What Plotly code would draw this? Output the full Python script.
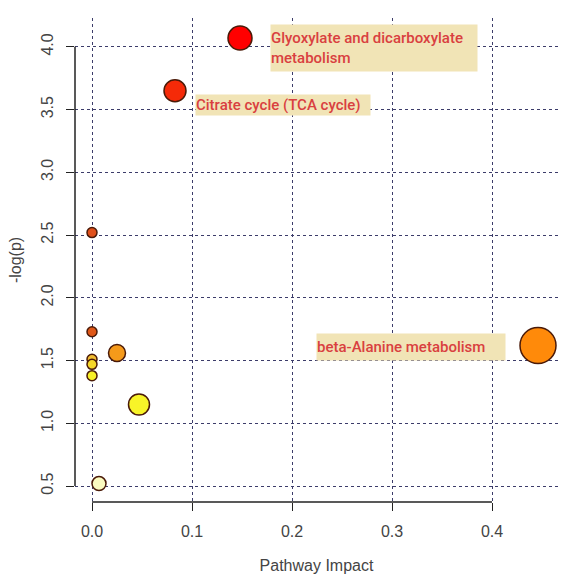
import plotly.graph_objects as go

impact = [0.148, 0.083, 0.446, 0.0, 0.0, 0.025, 0.0, 0.0, 0.0, 0.047, 0.007]
neglogp = [4.07, 3.65, 1.62, 2.52, 1.73, 1.56, 1.51, 1.47, 1.38, 1.15, 0.52]
sizes = [24, 22, 36, 10, 10, 17, 10, 10, 10, 21, 14]
colors = ["#FF0000", "#F52A08", "#FF8A0A", "#E0501A", "#E05818", "#F59A1A",
          "#F0BC30", "#F5D628", "#F8F028", "#F8F428", "#FBFBC0"]

label_text = ["Glyoxylate and dicarboxylate<br>metabolism",
              "Citrate cycle (TCA cycle)",
              "beta-Alanine metabolism"]
label_x = [0.178, 0.103, 0.224]
label_y = [3.99, 3.54, 1.61]
label_w = [206, 174, 188]
label_h = [46, 20, 26]

xticks = [0.0, 0.1, 0.2, 0.3, 0.4]
yticks = [0.5, 1.0, 1.5, 2.0, 2.5, 3.0, 3.5, 4.0]

fig = go.Figure()
fig.add_trace(go.Scatter(
    x=impact, y=neglogp, mode="markers",
    marker=dict(size=sizes, color=colors, opacity=1,
                line=dict(color="#4a1a08", width=1.5)),
    hoverinfo="skip", showlegend=False))

for t, x, y, w, h in zip(label_text, label_x, label_y, label_w, label_h):
    fig.add_annotation(x=x, y=y, xref="x", yref="y", text=t, showarrow=False,
                       xanchor="left", yanchor="middle", align="left",
                       width=w, height=h, bgcolor="#F1E4B6", borderpad=0,
                       font=dict(family="Roboto", size=15, color="#D94040", weight=500))

axfont = dict(family="Liberation Sans, Arial", size=16, color="#444444")
fig.update_layout(
    width=567, height=584, plot_bgcolor="white", paper_bgcolor="white",
    margin=dict(l=75, r=9, t=18, b=82),
    xaxis=dict(range=[-0.017, 0.466], tickvals=xticks, ticktext=[f"{v:.1f}" for v in xticks],
               showgrid=True, gridcolor="#3c3c6a", griddash="dot", gridwidth=1,
               zeroline=False, showline=False, ticks="outside", ticklen=8, tickcolor="#222",
               tickfont=axfont, ticklabelstandoff=7,
               title=dict(text="Pathway Impact", font=axfont, standoff=20)),
    yaxis=dict(range=[0.373, 4.23], tickvals=yticks, ticktext=[f"{v:.1f}" for v in yticks],
               showgrid=True, gridcolor="#3c3c6a", griddash="dot", gridwidth=1,
               zeroline=False, showline=False, ticks="outside", ticklen=8, tickcolor="#222",
               tickfont=axfont, tickangle=-90, ticklabelstandoff=7,
               title=dict(text="-log(p)", font=axfont, standoff=12)),
)
fig.add_shape(type="line", xref="x", yref="paper", x0=0, x1=0.4, y0=0, y1=0,
              line=dict(color="#222", width=1.5))
fig.add_shape(type="line", xref="paper", yref="y", x0=0, x1=0, y0=0.5, y1=4.0,
              line=dict(color="#222", width=1.5))
fig.write_html("out.html")
